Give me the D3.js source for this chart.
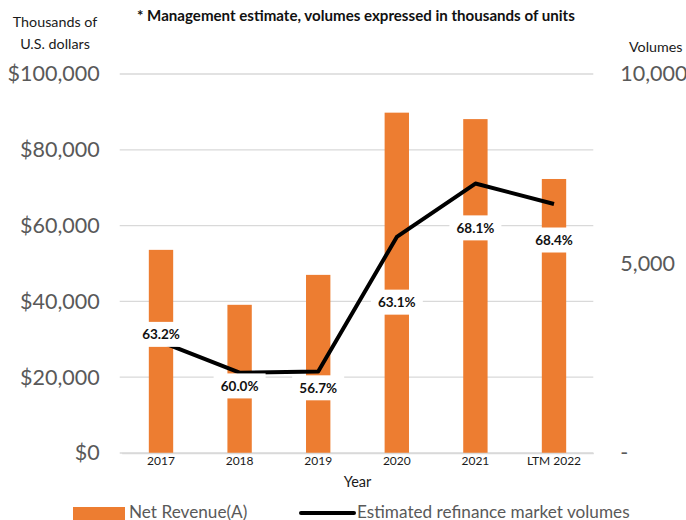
<!DOCTYPE html>
<html>
<head>
<meta charset="utf-8">
<script src="https://cdn.jsdelivr.net/npm/d3@7/dist/d3.min.js"></script>
<style>
  html, body { margin: 0; padding: 0; background: #fff; }
  svg { display: block; font-family: Lato, "Open Sans", sans-serif; }
</style>
</head>
<body>
<svg id="chart" width="686" height="520"></svg>
<script>
// Fiscal periods on the x axis
const years = ["2017", "2018", "2019", "2020", "2021", "LTM 2022"];
// Net revenue, thousands of U.S. dollars (left axis)
const netRevenue = [53600, 39100, 47000, 89800, 88100, 72300];
// Estimated refinance market volumes, thousands of units (right axis)
const refiVolumes = [2930, 2120, 2150, 5700, 7110, 6570];
// Margin labels shown on each bar
const marginLabels = ["63.2%", "60.0%", "56.7%", "63.1%", "68.1%", "68.4%"];
// Revenue level (left-axis units) at which each margin label sits
const marginLabelLevel = [31300, 17700, 17200, 39800, 59400, 56200];
// Axis tick values
const revenueTicks = [0, 20000, 40000, 60000, 80000, 100000];
const volumeTicks = [0, 5000, 10000];

const svg = d3.select("#chart");
const plot = { left: 121.7, right: 593.3, top: 74, bottom: 453 };
const orange = "#ED7D31";
const grid = "#D9D9D9";
const axisText = "#595959";

const x = d3.scaleBand()
  .domain(years)
  .range([plot.left, plot.right])
  .paddingInner(0.69)
  .paddingOuter(0.345);
const yRev = d3.scaleLinear().domain([0, 100000]).range([plot.bottom, plot.top]);
const yVol = d3.scaleLinear().domain([0, 10000]).range([plot.bottom, plot.top]);

// Horizontal gridlines
svg.append("g")
  .selectAll("line")
  .data(revenueTicks)
  .join("line")
  .attr("x1", plot.left - 2)
  .attr("x2", plot.right)
  .attr("y1", d => yRev(d))
  .attr("y2", d => yRev(d))
  .attr("stroke", grid)
  .attr("stroke-width", 1.3);

// Left axis (revenue)
const leftAxis = d3.axisLeft(yRev)
  .tickValues(revenueTicks)
  .tickSize(0)
  .tickPadding(22)
  .tickFormat(d => "$" + d3.format(",")(d));
svg.append("g")
  .attr("transform", `translate(${plot.left},0)`)
  .call(leftAxis)
  .call(g => g.select(".domain").remove())
  .selectAll("text")
  .attr("fill", axisText)
  .attr("font-size", 21.5)
  .attr("font-family", "Lato, sans-serif");

// Right axis (volumes); zero shown as a dash
const rightAxis = d3.axisRight(yVol)
  .tickValues(volumeTicks)
  .tickSize(0)
  .tickPadding(27)
  .tickFormat(d => d === 0 ? "-" : d3.format(",")(d));
svg.append("g")
  .attr("transform", `translate(${plot.right},0)`)
  .call(rightAxis)
  .call(g => g.select(".domain").remove())
  .selectAll("text")
  .attr("fill", axisText)
  .attr("font-size", 21.5)
  .attr("font-family", "Lato, sans-serif");

// Revenue bars
svg.append("g")
  .selectAll("rect")
  .data(years.map((y, i) => ({ year: y, value: netRevenue[i] })))
  .join("rect")
  .attr("x", d => x(d.year))
  .attr("width", x.bandwidth())
  .attr("y", d => yRev(d.value))
  .attr("height", d => yRev(0) - yRev(d.value))
  .attr("fill", orange);

// Bottom axis with category labels
const bottomAxis = d3.axisBottom(x).tickSize(0).tickPadding(3);
svg.append("g")
  .attr("transform", `translate(0,${plot.bottom})`)
  .call(bottomAxis)
  .call(g => g.select(".domain").attr("stroke", grid).attr("stroke-width", 1.3))
  .selectAll("text")
  .attr("fill", "#1a1a1a")
  .attr("font-size", 12)
  .attr("font-family", "Lato, sans-serif");

// Refinance volume line
const line = d3.line()
  .x((d, i) => x(years[i]) + x.bandwidth() / 2)
  .y(d => yVol(d));
svg.append("path")
  .datum(refiVolumes)
  .attr("d", line)
  .attr("fill", "none")
  .attr("stroke", "#000")
  .attr("stroke-width", 4)
  .attr("stroke-linejoin", "round");

// Margin labels on white boxes
const labels = svg.append("g")
  .selectAll("g")
  .data(years.map((y, i) => ({ year: y, text: marginLabels[i], level: marginLabelLevel[i] })))
  .join("g")
  .attr("transform", d => `translate(${x(d.year) + x.bandwidth() / 2},${yRev(d.level)})`);
labels.append("rect")
  .attr("x", -26)
  .attr("y", -12.5)
  .attr("width", 52)
  .attr("height", 25)
  .attr("fill", "#fff");
labels.append("text")
  .attr("text-anchor", "middle")
  .attr("dy", "0.36em")
  .attr("font-size", 13.5)
  .attr("font-weight", "bold")
  .attr("fill", "#111")
  .text(d => d.text);

// Axis titles and note
svg.append("text")
  .attr("x", 55).attr("y", 27)
  .attr("text-anchor", "middle")
  .attr("font-size", 14.3)
  .attr("fill", "#1a1a1a")
  .text("Thousands of");
svg.append("text")
  .attr("x", 55).attr("y", 49)
  .attr("text-anchor", "middle")
  .attr("font-size", 14.3)
  .attr("fill", "#1a1a1a")
  .text("U.S. dollars");
svg.append("text")
  .attr("x", 629).attr("y", 52)
  .attr("font-size", 14.3)
  .attr("fill", "#1a1a1a")
  .text("Volumes");
svg.append("text")
  .attr("x", 137).attr("y", 21)
  .attr("font-size", 15.1)
  .attr("font-weight", "bold")
  .attr("fill", "#111")
  .text("* Management estimate, volumes expressed in thousands of units");
svg.append("text")
  .attr("x", (plot.left + plot.right) / 2).attr("y", 487)
  .attr("text-anchor", "middle")
  .attr("font-size", 14.5)
  .attr("fill", "#1a1a1a")
  .text("Year");

// Legend
const legend = svg.append("g");
legend.append("rect")
  .attr("x", 73).attr("y", 507).attr("width", 52).attr("height", 13)
  .attr("fill", orange);
legend.append("text")
  .attr("x", 129).attr("y", 518)
  .attr("font-size", 17.2)
  .attr("fill", axisText)
  .text("Net Revenue(A)");
legend.append("line")
  .attr("x1", 301).attr("x2", 354).attr("y1", 513).attr("y2", 513)
  .attr("stroke", "#000").attr("stroke-width", 4).attr("stroke-linecap", "round");
legend.append("text")
  .attr("x", 357).attr("y", 518)
  .attr("font-size", 17.2)
  .attr("fill", axisText)
  .text("Estimated refinance market volumes");
</script>
</body>
</html>
